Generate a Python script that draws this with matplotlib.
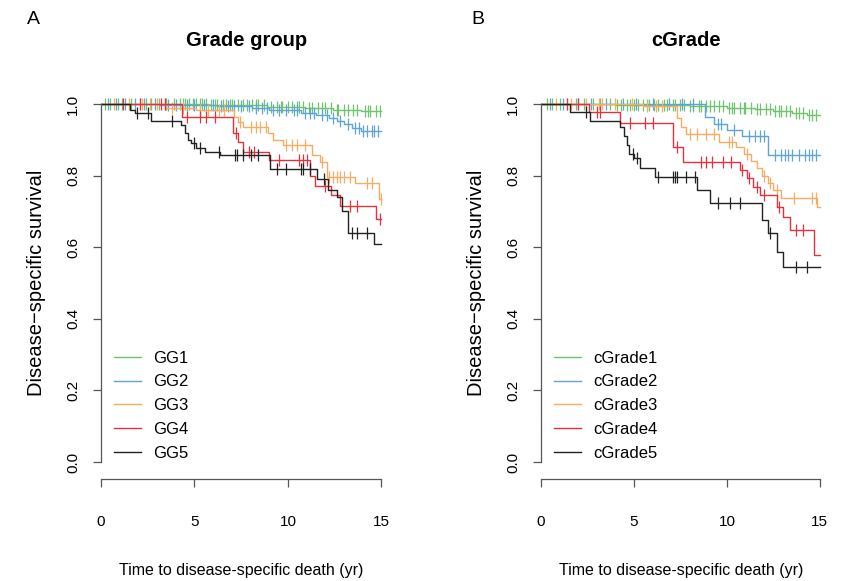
import numpy as np
import matplotlib
matplotlib.use('Agg')
import matplotlib.pyplot as plt
from matplotlib import font_manager
from matplotlib.lines import Line2D

# ---- data ----
end_time = 15.0

# Panel A: Grade group
gg1_t = [5.8, 8.9, 10.9, 12.4, 13.9]
gg1_s = [0.997, 0.993, 0.988, 0.984, 0.980]
gg1_c = [0.2, 0.5, 0.9, 1.1, 1.6, 2.1, 2.4, 2.7, 3.1, 3.4, 3.5, 3.9, 4.2, 4.4, 4.5, 4.7,
         4.9, 5.1, 5.3, 5.4, 5.6, 5.9, 6.1, 6.2, 6.5, 6.7, 6.9, 7.0, 7.3, 7.6, 7.8, 8.1,
         8.3, 8.4, 8.7, 9.1, 9.4, 9.6, 9.7, 10.0, 10.2, 10.5, 10.6, 10.8, 11.1, 11.3, 11.6,
         11.8, 12.0, 12.3, 12.6, 12.7, 13.0, 13.2, 13.5, 13.7, 14.1, 14.3, 14.4, 14.7, 14.9]

gg2_t = [3.1, 6.2, 8.1, 9.0, 10.7, 11.5, 12.2, 12.6, 13.0, 13.4, 13.9]
gg2_s = [0.997, 0.994, 0.990, 0.982, 0.975, 0.968, 0.960, 0.952, 0.944, 0.934, 0.925]
gg2_c = [0.4, 0.8, 1.3, 1.8, 2.3, 2.9, 3.6, 4.0, 4.6, 5.0, 5.5, 6.0, 6.4, 6.8, 7.1, 7.5,
         7.9, 8.3, 8.6, 8.9, 9.2, 9.5, 9.9, 10.3, 10.5, 10.9, 11.2, 11.4, 11.8, 12.1, 12.4,
         12.8, 13.2, 13.6, 13.8, 14.0, 14.2, 14.5, 14.6, 14.8]

gg3_t = [3.5, 5.1, 7.1, 7.34, 7.6, 8.95, 9.22, 9.75, 11.26, 11.71, 12.07, 13.6, 14.85]
gg3_s = [0.99, 0.983, 0.965, 0.95, 0.937, 0.918, 0.90, 0.885, 0.857, 0.839, 0.797, 0.778, 0.735]
gg3_c = [0.7, 1.5, 2.2, 2.6, 3.0, 3.8, 4.4, 5.3, 5.7, 6.3, 6.6, 7.45, 8.0, 8.3, 8.5, 8.8,
         9.9, 10.2, 10.5, 10.9, 11.8, 12.2, 12.4, 12.6, 12.8, 13.0, 13.3, 14.2, 14.5, 14.95]

gg4_t = [4.31, 7.08, 7.3, 7.6, 9.0, 11.2, 11.45, 12.3, 12.8, 14.7]
gg4_s = [0.965, 0.92, 0.895, 0.865, 0.845, 0.80, 0.77, 0.745, 0.715, 0.68]
gg4_c = [1.2, 2.1, 3.2, 3.4, 4.6, 5.3, 5.6, 6.1, 7.2, 7.9, 8.2, 9.5, 10.6, 10.8, 11.0,
         12.0, 13.3, 13.7, 14.9]

gg5_t = [1.55, 1.8, 2.7, 4.3, 4.5, 4.65, 4.8, 5.1, 5.56, 6.36, 9.04, 11.53, 12.16, 12.6,
         12.9, 13.2, 14.6]
gg5_s = [0.983, 0.975, 0.953, 0.94, 0.92, 0.90, 0.89, 0.876, 0.865, 0.857, 0.818, 0.79,
         0.76, 0.74, 0.70, 0.64, 0.61]
gg5_c = [1.9, 2.5, 3.8, 5.0, 5.3, 6.3, 7.15, 7.25, 7.6, 8.0, 8.4, 9.4, 9.9, 10.7, 10.8,
         11.2, 11.9, 13.4, 13.7, 14.2]

# Panel B: cGrade
cg1_t = [4.0, 8.0, 10.0, 11.5, 12.5, 13.5, 14.3]
cg1_s = [0.998, 0.995, 0.99, 0.985, 0.98, 0.975, 0.97]
cg1_c = [0.3, 0.6, 1.0, 1.4, 1.9, 2.3, 2.8, 3.2, 3.7, 4.1, 4.3, 4.6, 4.8, 5.0, 5.2, 5.5,
         5.7, 5.8, 6.1, 6.3, 6.6, 6.8, 7.1, 7.2, 7.5, 7.7, 8.0, 8.2, 8.5, 8.6, 8.9, 9.1,
         9.3, 9.6, 9.8, 10.1, 10.3, 10.4, 10.7, 10.9, 11.0, 11.3, 11.6, 11.8, 12.1, 12.3,
         12.6, 12.8, 12.9, 13.2, 13.4, 13.7, 13.9, 14.1, 14.4, 14.6, 14.8]

cg2_t = [8.8, 9.3, 10.0, 10.8, 12.2]
cg2_s = [0.963, 0.945, 0.927, 0.912, 0.858]
cg2_c = [0.5, 1.2, 2.0, 2.7, 3.5, 4.4, 5.1, 6.0, 6.9, 7.6, 8.2, 9.5, 9.7, 10.4, 11.2,
         11.5, 11.8, 12.0, 12.6, 12.9, 13.1, 13.3, 13.5, 13.9, 14.2, 14.4, 14.6, 14.8]

cg3_t = [5.5, 7.3, 7.55, 7.8, 9.6, 10.5, 10.9, 11.3, 11.6, 11.9, 12.2, 12.5, 12.9, 14.85]
cg3_s = [0.995, 0.96, 0.935, 0.917, 0.894, 0.88, 0.86, 0.84, 0.82, 0.80, 0.78, 0.76,
         0.737, 0.713]
cg3_c = [0.8, 1.6, 2.4, 3.1, 3.3, 4.0, 4.9, 5.7, 6.2, 6.5, 8.0, 8.4, 8.9, 9.3, 10.1,
         10.3, 11.1, 12.0, 12.3, 12.7, 13.6, 14.6, 14.8]

cg4_t = [2.6, 4.25, 7.1, 7.65, 10.7, 11.06, 11.4, 11.77, 12.67, 13.0, 13.4, 14.7]
cg4_s = [0.978, 0.946, 0.881, 0.839, 0.816, 0.792, 0.769, 0.746, 0.713, 0.685, 0.648, 0.578]
cg4_c = [1.4, 2.0, 3.0, 3.2, 4.8, 5.6, 6.0, 7.3, 8.6, 8.9, 9.2, 9.8, 10.2, 10.8, 11.2,
         11.6, 12.0, 12.8, 13.7, 14.1]

cg5_t = [1.56, 2.63, 4.25, 4.45, 4.6, 4.75, 5.0, 5.3, 6.13, 8.37, 9.09, 11.9, 12.2,
         12.67, 13.0]
cg5_s = [0.978, 0.953, 0.935, 0.91, 0.885, 0.86, 0.85, 0.82, 0.797, 0.76, 0.723, 0.676,
         0.639, 0.587, 0.546]
cg5_c = [2.4, 4.96, 5.14, 6.3, 7.1, 7.2, 7.3, 7.8, 8.3, 9.5, 10.16, 10.7, 12.3, 13.7, 14.3]

labels_a = ['GG1', 'GG2', 'GG3', 'GG4', 'GG5']
labels_b = ['cGrade1', 'cGrade2', 'cGrade3', 'cGrade4', 'cGrade5']
colors = ['#6cc46c', '#5fa3dc', '#f6ad62', '#e2323d', '#222222']

x_ticks = [0, 5, 10, 15]
y_ticks = [0.0, 0.2, 0.4, 0.6, 0.8, 1.0]

# ---- fonts ----
names = {f.name for f in font_manager.fontManager.ttflist}
if 'Liberation Sans Narrow' in names:
    plt.rcParams['font.family'] = ['Liberation Sans Narrow', 'DejaVu Sans']
    scale = 1.15
else:
    plt.rcParams['font.family'] = ['Liberation Sans', 'DejaVu Sans']
    scale = 1.0
tick_fs = 11 * scale
leg_fs = 12 * scale
lab_fs = 11.5 * scale
axis_col = '#555555'


def km(ax, t, s, cens, color):
    tt = np.r_[0.0, t, end_time]
    ss = np.r_[1.0, s, s[-1]]
    ax.step(tt, ss, where='post', color=color, lw=1.0)
    idx = np.searchsorted(tt, cens, side='right') - 1
    ax.plot(cens, ss[idx], ls='none', marker='|', ms=8.5, mew=0.9, color=color)


def style(ax, labels):
    ax.set_xlim(0, 15.6)
    ax.set_ylim(-0.0475, 1.04)
    for sp in ['top', 'right']:
        ax.spines[sp].set_visible(False)
    ax.spines['left'].set_bounds(0, 1)
    ax.spines['bottom'].set_bounds(0, 15)
    for sp in ['left', 'bottom']:
        ax.spines[sp].set_color(axis_col)
        ax.spines[sp].set_linewidth(0.9)
    ax.set_xticks(x_ticks)
    ax.set_xticklabels([str(v) for v in x_ticks])
    ax.set_yticks(y_ticks)
    ax.set_yticklabels([f'{v:.1f}' for v in y_ticks], rotation=90, va='center')
    ax.tick_params(axis='both', length=6, width=0.9, color=axis_col, labelsize=tick_fs)
    ax.tick_params(axis='x', pad=20)
    ax.tick_params(axis='y', pad=9)
    handles = [Line2D([], [], color=c, lw=1.0) for c in colors]
    ax.legend(handles, labels, loc='upper left', bbox_to_anchor=(0.045, 0.33),
              frameon=False, fontsize=leg_fs, handlelength=1.6, handletextpad=0.75,
              labelspacing=0.53, borderpad=0, borderaxespad=0)


W, H = 846, 581
fig = plt.figure(figsize=(W / 100, H / 100), dpi=100)
ax_a = fig.add_axes([101 / W, 1 - 479 / H, 291.7 / W, 389.3 / H])
ax_b = fig.add_axes([541 / W, 1 - 479 / H, 290 / W, 389.3 / H])

for t, s, c, col in zip([gg1_t, gg2_t, gg3_t, gg4_t, gg5_t],
                        [gg1_s, gg2_s, gg3_s, gg4_s, gg5_s],
                        [gg1_c, gg2_c, gg3_c, gg4_c, gg5_c], colors):
    km(ax_a, t, s, c, col)
for t, s, c, col in zip([cg1_t, cg2_t, cg3_t, cg4_t, cg5_t],
                        [cg1_s, cg2_s, cg3_s, cg4_s, cg5_s],
                        [cg1_c, cg2_c, cg3_c, cg4_c, cg5_c], colors):
    km(ax_b, t, s, c, col)

style(ax_a, labels_a)
style(ax_b, labels_b)

# titles, panel letters and axis labels
fig.text(247 / W, 1 - 40 / H, 'Grade group', ha='center', va='center',
         fontsize=14.5 * scale, fontweight='bold')
fig.text(686 / W, 1 - 40 / H, 'cGrade', ha='center', va='center',
         fontsize=14.5 * scale, fontweight='bold')
fig.text(33 / W, 1 - 19 / H, 'A', ha='center', va='center', fontsize=14 * scale)
fig.text(478 / W, 1 - 19 / H, 'B', ha='center', va='center', fontsize=14 * scale)
for x in [37, 476]:
    fig.text(x / W, 1 - 283 / H, 'Disease\u2212specific survival', rotation=90,
             ha='center', va='center', fontsize=14.5)
for x in [241, 681]:
    fig.text(x / W, 1 - 570 / H, 'Time to disease-specific death (yr)',
             ha='center', va='center', fontsize=lab_fs)

fig.savefig('out.png', dpi=100)
